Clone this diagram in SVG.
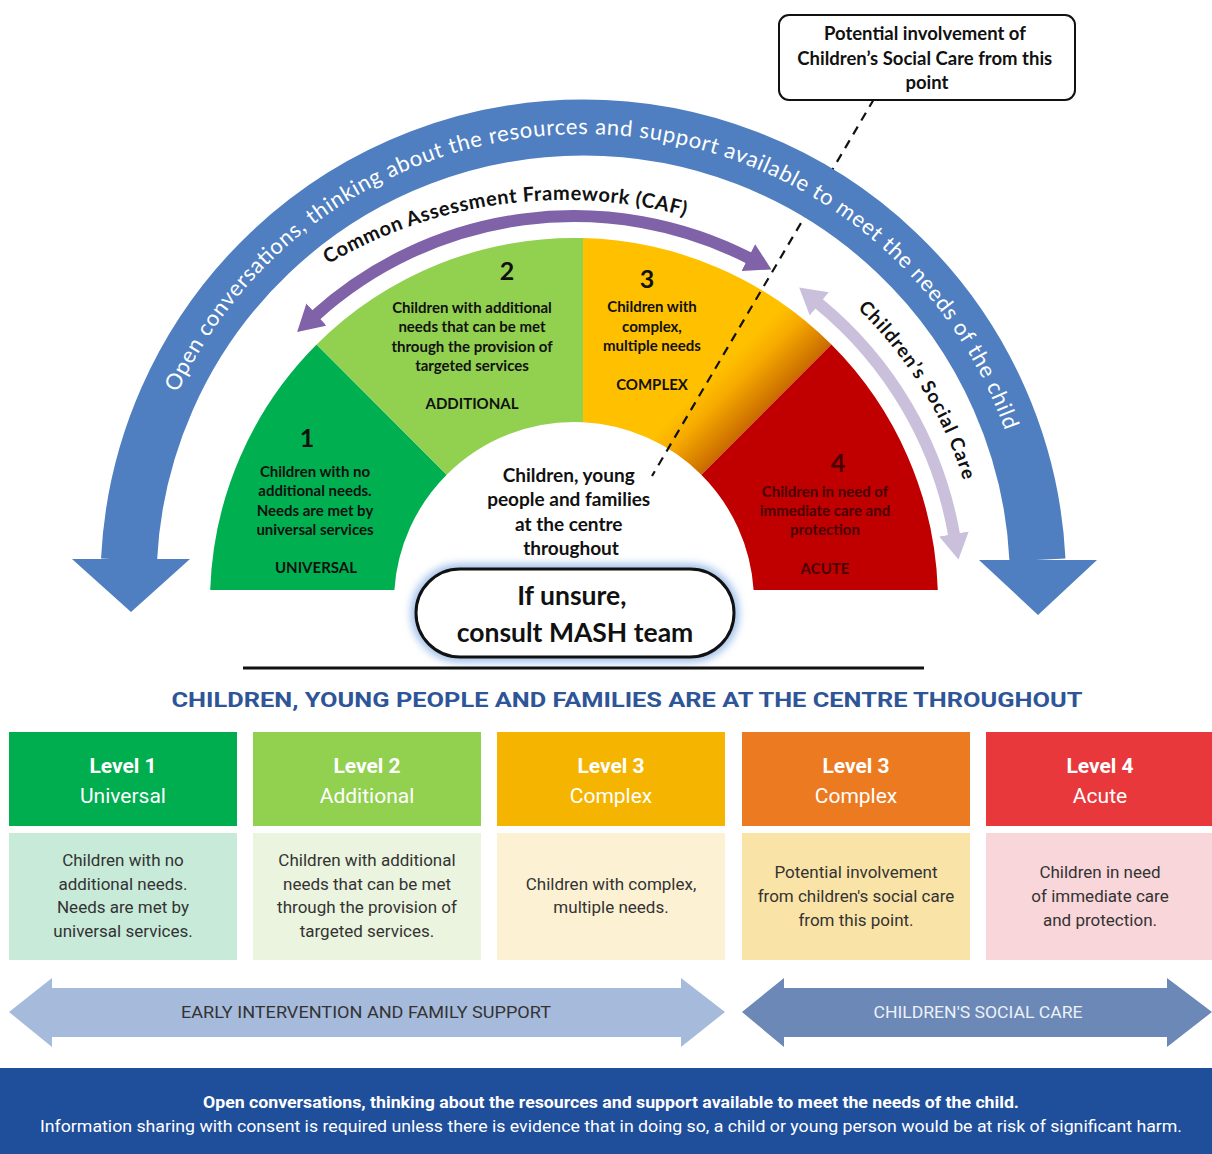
<svg xmlns="http://www.w3.org/2000/svg" width="1212" height="1154" viewBox="0 0 1212 1154">
<style>
.lato{font-family:Lato,"Liberation Sans",sans-serif;}
.rob{font-family:Roboto,"Liberation Sans",sans-serif;}
.sec{font-family:Lato,"Liberation Sans",sans-serif;font-weight:bold;font-size:15px;fill:#111;text-anchor:middle;}
.num{font-family:Lato,"Liberation Sans",sans-serif;font-weight:bold;font-size:25px;fill:#111;text-anchor:middle;}
.red{fill:#4a0000;}
.hd1{font-family:Roboto,"Liberation Sans",sans-serif;font-weight:bold;font-size:21px;fill:#fff;text-anchor:middle;}
.hd2{font-family:Roboto,"Liberation Sans",sans-serif;font-size:21px;fill:#fff;text-anchor:middle;}
.body{font-family:Roboto,"Liberation Sans",sans-serif;font-size:17px;fill:#333;text-anchor:middle;}
</style>
<defs>
<linearGradient id="g3" gradientUnits="userSpaceOnUse" x1="545" y1="545" x2="588" y2="588">
<stop offset="0" stop-color="#FFC000"/>
<stop offset="0.35" stop-color="#F7AA00"/>
<stop offset="1" stop-color="#C86A00"/>
</linearGradient>
<marker id="mP" viewBox="0 0 26 30" markerWidth="26" markerHeight="30" refX="1" refY="15" orient="auto-start-reverse" markerUnits="userSpaceOnUse">
<path d="M0,0 L26,15 L0,30 Z" fill="#8062A8"/>
</marker>
<marker id="mL" viewBox="0 0 26 30" markerWidth="26" markerHeight="30" refX="1" refY="15" orient="auto-start-reverse" markerUnits="userSpaceOnUse">
<path d="M0,0 L26,15 L0,30 Z" fill="#CBC0DC"/>
</marker>
<filter id="glow" x="-20%" y="-40%" width="140%" height="180%">
<feGaussianBlur stdDeviation="4"/>
</filter>
<path id="pBlue" d="M 177.5 392.7 A 448 448 0 0 1 1005 430.3"/>
<path id="pCaf" d="M 328 264.4 A 465 465 0 0 1 685.9 216.3"/>
<path id="pCsc" d="M 857.4 308.5 A 408 408 0 0 1 963.3 480"/>
</defs>

<!-- Fan sectors -->
<g id="sector1">
<path d="M 210.2 590 A 364 364 0 0 1 316.6 344.6 L 446.7 474.7 A 180 180 0 0 0 394.4 590 Z" fill="#00B050"/>
<text class="num" x="307" y="447">1</text>
<text class="sec" x="315" y="477">Children with no</text>
<text class="sec" x="315" y="496">additional needs.</text>
<text class="sec" x="315" y="516">Needs are met by</text>
<text class="sec" x="315" y="535">universal services</text>
<text class="sec" x="316" y="573">UNIVERSAL</text>
</g>
<g id="sector2">
<path d="M 316.6 344.6 A 364 364 0 0 1 583 238.1 L 583 422.2 A 180 180 0 0 0 446.7 474.7 Z" fill="#92D050"/>
<text class="num" x="507" y="280">2</text>
<text class="sec" x="472" y="313">Children with additional</text>
<text class="sec" x="472" y="332">needs that can be met</text>
<text class="sec" x="472" y="352">through the provision of</text>
<text class="sec" x="472" y="371">targeted services</text>
<text class="sec" x="472" y="409">ADDITIONAL</text>
</g>
<g id="sector3">
<path d="M 583 238.1 A 364 364 0 0 1 831.4 344.6 L 701.3 474.7 A 180 180 0 0 0 583 422.2 Z" fill="url(#g3)"/>
<text class="num" x="647" y="288">3</text>
<text class="sec" x="652" y="312">Children with</text>
<text class="sec" x="652" y="332">complex,</text>
<text class="sec" x="652" y="351">multiple needs</text>
<text class="sec" x="652" y="390">COMPLEX</text>
</g>
<g id="sector4">
<path d="M 831.4 344.6 A 364 364 0 0 1 937.8 590 L 753.6 590 A 180 180 0 0 0 701.3 474.7 Z" fill="#C00000"/>
<text class="num red" x="838" y="472">4</text>
<text class="sec red" x="825" y="497">Children in need of</text>
<text class="sec red" x="825" y="516">immediate care and</text>
<text class="sec red" x="825" y="535">protection</text>
<text class="sec red" x="825" y="574">ACUTE</text>
</g>

<g id="centre-text">
<text class="lato" font-weight="bold" font-size="19" fill="#111" text-anchor="middle">
<tspan x="571" y="482">Children, young</tspan>
<tspan x="571" y="506">people and families</tspan>
<tspan x="571" y="531">at the centre</tspan>
<tspan x="571" y="555">throughout</tspan>
</text>
</g>

<!-- Connectors / arcs -->
<g id="connectors">
<path id="caf-arrow" d="M 315.7 315.2 A 386 386 0 0 1 749.2 258.1" fill="none" stroke="#8062A8" stroke-width="12" marker-start="url(#mP)" marker-end="url(#mP)"/>
<path id="csc-arrow" d="M 818.5 303.3 A 386 386 0 0 1 954.1 535" fill="none" stroke="#CBC0DC" stroke-width="12" marker-start="url(#mL)" marker-end="url(#mL)"/>
<path id="callout-line" d="M 874 99 L 652 476" fill="none" stroke="#111" stroke-width="2.2" stroke-dasharray="9 7"/>
<g id="blue-band">
<path d="M 129 560 A 454.8 454.8 0 0 1 1037.5 560" fill="none" stroke="#4F7FC0" stroke-width="56"/>
<polygon points="72,559 190,559 131,612" fill="#4F7FC0"/>
<polygon points="979,560 1097,560 1038,615" fill="#4F7FC0"/>
</g>
</g>

<g id="arc-labels">
<text class="lato" font-size="22" fill="#fff"><textPath href="#pBlue" textLength="1057" lengthAdjust="spacing">Open conversations, thinking about the resources and support available to meet the needs of the child</textPath></text>
<text class="lato" font-size="20" font-weight="bold" fill="#111"><textPath href="#pCaf" textLength="370" lengthAdjust="spacing">Common Assessment Framework (CAF)</textPath></text>
<text class="lato" font-size="19" font-weight="bold" fill="#111"><textPath href="#pCsc" textLength="204" lengthAdjust="spacing">Children’s Social Care</textPath></text>
</g>

<g id="callout">
<rect x="779" y="15" width="296" height="85" rx="10" fill="#fff" stroke="#111" stroke-width="2"/>
<text class="lato" font-weight="bold" font-size="18.5" fill="#111" text-anchor="middle">
<tspan x="927" y="40">Potential involvement of</tspan>
<tspan x="927" y="65">Children’s Social Care from this</tspan>
<tspan x="927" y="89">point</tspan>
</text>
</g>

<g id="mash">
<rect x="416" y="569" width="318" height="88" rx="44" fill="none" stroke="#8FB5E6" stroke-width="9" filter="url(#glow)"/>
<rect x="416" y="569" width="318" height="88" rx="44" fill="#fff" stroke="#111" stroke-width="3"/>
<text class="lato" font-weight="bold" font-size="26.5" fill="#111" text-anchor="middle">
<tspan x="575" y="605">If unsure,</tspan>
<tspan x="575" y="642">consult MASH team</tspan>
</text>
</g>

<line x1="243" y1="668" x2="924" y2="668" stroke="#111" stroke-width="3"/>

<text id="heading" class="rob" x="627" y="707" font-weight="bold" font-size="21" fill="#2E5597" text-anchor="middle" textLength="911" lengthAdjust="spacingAndGlyphs">CHILDREN, YOUNG PEOPLE AND FAMILIES ARE AT THE CENTRE THROUGHOUT</text>

<g id="level1">
<rect x="9" y="732" width="228" height="94" fill="#00AD4F"/>
<rect x="9" y="833" width="228" height="127" fill="#C8EAD9"/>
<text class="hd1" x="123" y="773">Level 1</text>
<text class="hd2" x="123" y="803">Universal</text>
<text class="body"><tspan x="123" y="866">Children with no</tspan><tspan x="123" y="890">additional needs.</tspan><tspan x="123" y="913">Needs are met by</tspan><tspan x="123" y="937">universal services.</tspan></text>
</g>
<g id="level2">
<rect x="253" y="732" width="228" height="94" fill="#92D050"/>
<rect x="253" y="833" width="228" height="127" fill="#EBF4DE"/>
<text class="hd1" x="367" y="773">Level 2</text>
<text class="hd2" x="367" y="803" fill="#EEF8E0">Additional</text>
<text class="body"><tspan x="367" y="866">Children with additional</tspan><tspan x="367" y="890">needs that can be met</tspan><tspan x="367" y="913">through the provision of</tspan><tspan x="367" y="937">targeted services.</tspan></text>
</g>
<g id="level3a">
<rect x="497" y="732" width="228" height="94" fill="#F4B400"/>
<rect x="497" y="833" width="228" height="127" fill="#FCF1D3"/>
<text class="hd1" x="611" y="773">Level 3</text>
<text class="hd2" x="611" y="803" fill="#FDE9B5">Complex</text>
<text class="body"><tspan x="611" y="890">Children with complex,</tspan><tspan x="611" y="913">multiple needs.</tspan></text>
</g>
<g id="level3b">
<rect x="742" y="732" width="228" height="94" fill="#EC7A20"/>
<rect x="742" y="833" width="228" height="127" fill="#FAE3A6"/>
<text class="hd1" x="856" y="773">Level 3</text>
<text class="hd2" x="856" y="803" fill="#FDEBDD">Complex</text>
<text class="body"><tspan x="856" y="878">Potential involvement</tspan><tspan x="856" y="902">from children's social care</tspan><tspan x="856" y="926">from this point.</tspan></text>
</g>
<g id="level4">
<rect x="986" y="732" width="226" height="94" fill="#E8383B"/>
<rect x="986" y="833" width="226" height="127" fill="#F9D6D9"/>
<text class="hd1" x="1100" y="773">Level 4</text>
<text class="hd2" x="1100" y="803">Acute</text>
<text class="body"><tspan x="1100" y="878">Children in need</tspan><tspan x="1100" y="902">of immediate care</tspan><tspan x="1100" y="926">and protection.</tspan></text>
</g>

<g id="early-intervention">
<polygon points="9,1012 52,978 52,988 681,988 681,978 725,1012 681,1047 681,1037 52,1037 52,1047" fill="#A6BADB"/>
<text class="rob" x="366" y="1018" font-size="17" fill="#333" text-anchor="middle" textLength="370" lengthAdjust="spacingAndGlyphs">EARLY INTERVENTION AND FAMILY SUPPORT</text>
</g>
<g id="childrens-social-care">
<polygon points="742,1012 784,978 784,988 1167,988 1167,978 1212,1012 1167,1047 1167,1037 784,1037 784,1047" fill="#6B88B6"/>
<text class="rob" x="978" y="1018" font-size="17" fill="#EEF2F8" text-anchor="middle" textLength="209" lengthAdjust="spacingAndGlyphs">CHILDREN'S SOCIAL CARE</text>
</g>

<g id="banner">
<rect x="0" y="1068" width="1212" height="86" fill="#1F4E9B"/>
<text class="rob" x="611" y="1108" font-size="16" font-weight="bold" fill="#fff" text-anchor="middle" textLength="816" lengthAdjust="spacingAndGlyphs">Open conversations, thinking about the resources and support available to meet the needs of the child.</text>
<text class="rob" x="611" y="1132" font-size="16" fill="#fff" text-anchor="middle" textLength="1142" lengthAdjust="spacingAndGlyphs">Information sharing with consent is required unless there is evidence that in doing so, a child or young person would be at risk of significant harm.</text>
</g>
</svg>
